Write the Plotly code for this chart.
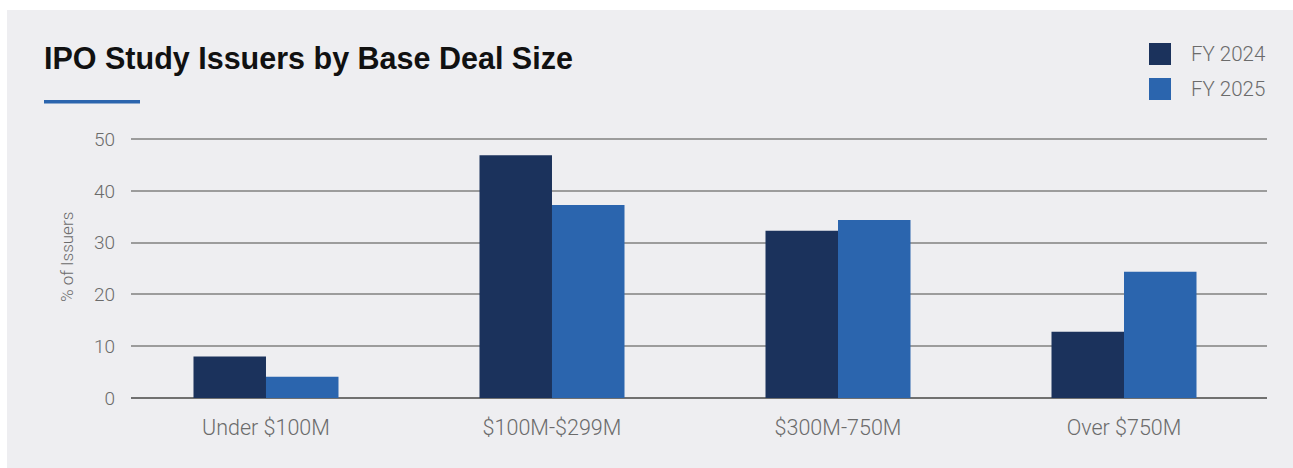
import plotly.graph_objects as go

# Chart data
categories = ["Under $100M", "$100M-$299M", "$300M-750M", "Over $750M"]
series_names = ["FY 2024", "FY 2025"]
fy2024 = [8.0, 46.9, 32.3, 12.8]
fy2025 = [4.1, 37.3, 34.4, 24.4]
y_ticks = [0, 10, 20, 30, 40, 50]

title_text = "IPO Study Issuers by Base Deal Size"
y_title = "% of Issuers"

colors = ["#1B325C", "#2B65AE"]
panel = "#EEEEF1"
text_gray = "#6B6B6B"

W, H = 1293, 468
L, R, T, B = 131, 26, 134, 70
PW, PH = W - L - R, H - T - B


def px_x(p):
    return (p - L) / PW


def px_y(p):
    return (H - B - p) / PH


fig = go.Figure()
for name, vals, col in zip(series_names, [fy2024, fy2025], colors):
    fig.add_trace(go.Bar(x=categories, y=vals, name=name, marker_color=col,
                         marker_line_width=0, showlegend=False))

shapes = [
    # light panel behind everything
    dict(type="rect", xref="paper", yref="paper", x0=px_x(7), x1=px_x(W + 5),
         y0=px_y(H + 5), y1=px_y(10), fillcolor=panel, line_width=0, layer="below"),
    # accent rule under the heading
    dict(type="rect", xref="paper", yref="paper", x0=px_x(44), x1=px_x(140),
         y0=px_y(103.5), y1=px_y(100), fillcolor="#2B65AE", line_width=0),
]

annotations = [
    dict(text=f"<b>{title_text}</b>", xref="paper", yref="paper", x=px_x(42), y=px_y(58),
         xanchor="left", yanchor="middle", showarrow=False,
         font=dict(family="Liberation Sans", size=30.5, color="#111111")),
    dict(text=y_title, xref="paper", yref="paper", x=px_x(67), y=px_y(257),
         xanchor="center", yanchor="middle", textangle=-90, showarrow=False,
         font=dict(family="Roboto", size=17, color=text_gray, weight=300)),
]

# legend: swatches and labels
for i, (name, col) in enumerate(zip(series_names, colors)):
    top = 43 + i * 35
    shapes.append(dict(type="rect", xref="paper", yref="paper",
                       x0=px_x(1149), x1=px_x(1171), y0=px_y(top + 22), y1=px_y(top),
                       fillcolor=col, line_width=0))
    annotations.append(dict(text=name, xref="paper", yref="paper",
                            x=px_x(1189), y=px_y(top + 11), xanchor="left", yanchor="middle",
                            showarrow=False,
                            font=dict(family="Roboto", size=20.5, color=text_gray, weight=300)))

fig.update_layout(
    width=W, height=H,
    margin=dict(l=L, r=R, t=T, b=B, pad=0),
    paper_bgcolor="white",
    plot_bgcolor="rgba(0,0,0,0)",
    barmode="group", bargap=0.493, bargroupgap=0,
    shapes=shapes, annotations=annotations,
    font=dict(family="Roboto", color=text_gray),
)
fig.update_xaxes(range=[-0.472, 3.5], showgrid=False, showline=False, zeroline=False,
                 ticks="", ticklabelstandoff=14,
                 tickfont=dict(family="Roboto", size=21.5, color=text_gray, weight=300))
fig.update_yaxes(range=[0, 51], tickvals=y_ticks, showgrid=True, gridcolor="#9C9C9C",
                 gridwidth=1.5, zeroline=True, zerolinecolor="#707070", zerolinewidth=1.5,
                 showline=False, ticks="", ticklabelstandoff=15,
                 tickfont=dict(family="Roboto", size=19, color=text_gray, weight=300))

fig.write_html("out.html")
